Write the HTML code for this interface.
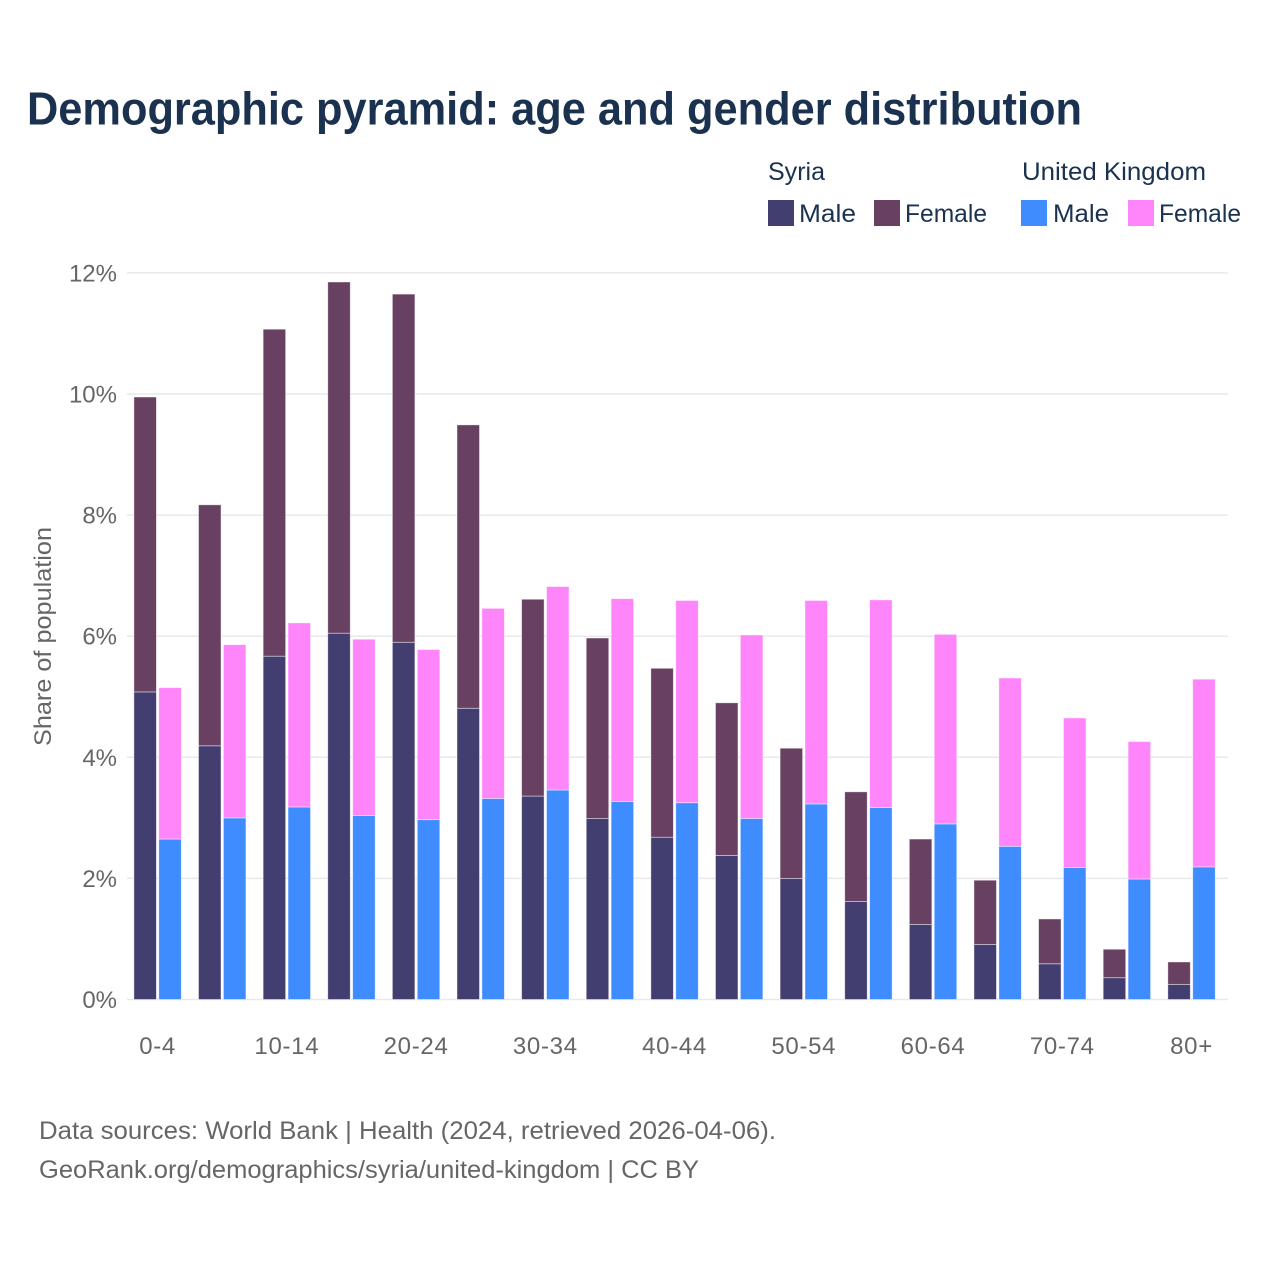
<!DOCTYPE html>
<html lang="en">
<head>
<meta charset="utf-8">
<title>Demographic pyramid: age and gender distribution</title>
<style>
html,body{margin:0;padding:0;background:#fff;}
svg{display:block;font-family:"Liberation Sans",sans-serif;}
</style>
</head>
<body>
<svg id="chart" width="1280" height="1280" viewBox="0 0 1280 1280" xmlns="http://www.w3.org/2000/svg">
  <rect x="0" y="0" width="1280" height="1280" fill="#ffffff"/>
  <text x="27" y="124.5" font-size="46" font-weight="700" fill="#1a3250" textLength="1055" lengthAdjust="spacingAndGlyphs">Demographic pyramid: age and gender distribution</text>

  <g font-size="25" fill="#1a3250">
    <text x="768" y="180" textLength="57" lengthAdjust="spacingAndGlyphs">Syria</text>
    <text x="1022" y="180" textLength="184" lengthAdjust="spacingAndGlyphs">United Kingdom</text>
    <rect x="768" y="200" width="26" height="26" fill="#433e70"/>
    <text x="799" y="222" textLength="57" lengthAdjust="spacingAndGlyphs">Male</text>
    <rect x="874" y="200" width="26" height="26" fill="#684162"/>
    <text x="905" y="222" textLength="82" lengthAdjust="spacingAndGlyphs">Female</text>
    <rect x="1021" y="200" width="26" height="26" fill="#3f8cff"/>
    <text x="1053" y="222" textLength="56" lengthAdjust="spacingAndGlyphs">Male</text>
    <rect x="1128" y="200" width="26" height="26" fill="#ff85fb"/>
    <text x="1159" y="222" textLength="82" lengthAdjust="spacingAndGlyphs">Female</text>
  </g>

  <g id="grid"></g>
  <g id="yticks"></g>
  <g id="bars"></g>
  <g id="xticks"></g>

  <text transform="translate(51,636.5) rotate(-90)" text-anchor="middle" font-size="24" fill="#666666" textLength="219" lengthAdjust="spacingAndGlyphs">Share of population</text>

  <text x="39" y="1139" font-size="25" fill="#666666" textLength="737" lengthAdjust="spacingAndGlyphs">Data sources: World Bank | Health (2024, retrieved 2026-04-06).</text>
  <text x="39" y="1178" font-size="25" fill="#666666" textLength="660" lengthAdjust="spacingAndGlyphs">GeoRank.org/demographics/syria/united-kingdom | CC BY</text>
</svg>
<script>
const categories = ["0-4","5-9","10-14","15-19","20-24","25-29","30-34","35-39","40-44","45-49","50-54","55-59","60-64","65-69","70-74","75-79","80+"];
const syriaMale = [5.08,4.19,5.67,6.05,5.90,4.81,3.36,2.99,2.68,2.38,2.00,1.62,1.24,0.91,0.59,0.36,0.25];
const syriaFemale = [4.87,3.98,5.40,5.80,5.75,4.68,3.25,2.98,2.79,2.52,2.15,1.81,1.41,1.06,0.74,0.47,0.37];
const ukMale = [2.65,3.00,3.18,3.04,2.97,3.32,3.46,3.27,3.25,2.99,3.23,3.17,2.90,2.53,2.18,1.99,2.19];
const ukFemale = [2.50,2.86,3.04,2.91,2.81,3.14,3.36,3.35,3.34,3.03,3.36,3.43,3.13,2.78,2.47,2.27,3.10];
const yTickValues = [0,2,4,6,8,10,12];
const xTickLabels = ["0-4","","10-14","","20-24","","30-34","","40-44","","50-54","","60-64","","70-74","","80+"];

const SVG_NS = "http://www.w3.org/2000/svg";
const yScale = function (v) { return 999.5 - v * 60.55; };
const xBand = function (i) { return 157.6 + i * 64.62; };
const barWidth = 22.5;
const barGap = 2.4;

function makeRect(parent, x, y0, y1, fill) {
  const r = document.createElementNS(SVG_NS, "rect");
  r.setAttribute("x", x);
  r.setAttribute("y", y1);
  r.setAttribute("width", barWidth);
  r.setAttribute("height", Math.max(0, y0 - y1));
  r.setAttribute("fill", fill);
  r.setAttribute("stroke", "#ffffff");
  r.setAttribute("stroke-opacity", "0.55");
  r.setAttribute("stroke-width", "0.8");
  parent.appendChild(r);
  return r;
}

const gridGroup = document.getElementById("grid");
const yTickGroup = document.getElementById("yticks");
yTickValues.forEach(function (v) {
  const line = document.createElementNS(SVG_NS, "line");
  
  
  line.setAttribute("x1", 127);
  line.setAttribute("x2", 1228);
  line.setAttribute("y1", yScale(v));
  line.setAttribute("y2", yScale(v));
  line.setAttribute("stroke", "#e9e9ec");
  line.setAttribute("stroke-width", "1.5");
  gridGroup.appendChild(line);

  const t = document.createElementNS(SVG_NS, "text");
  
  
  t.setAttribute("x", 117);
  t.setAttribute("y", yScale(v) + 8.5);
  t.setAttribute("text-anchor", "end");
  t.setAttribute("font-size", "24");
  t.setAttribute("fill", "#666666");
  t.textContent = v + "%";
  yTickGroup.appendChild(t);
});

const barGroup = document.getElementById("bars");
categories.forEach(function (cat, i) {
  const cx = xBand(i);
  const sx = cx - barGap / 2 - barWidth;
  const ux = cx + barGap / 2;
  const group = document.createElementNS(SVG_NS, "g");
  
  

  const sm = makeRect(group, sx, yScale(0), yScale(syriaMale[i]), "#433e70");
  
  
  const sf = makeRect(group, sx, yScale(syriaMale[i]), yScale(syriaMale[i] + syriaFemale[i]), "#684162");
  
  
  const um = makeRect(group, ux, yScale(0), yScale(ukMale[i]), "#3f8cff");
  
  
  const uf = makeRect(group, ux, yScale(ukMale[i]), yScale(ukMale[i] + ukFemale[i]), "#ff85fb");
  
  

  barGroup.appendChild(group);
});

const xTickGroup = document.getElementById("xticks");
xTickLabels.forEach(function (label, i) {
  if (!label) return;
  const t = document.createElementNS(SVG_NS, "text");
  
  
  t.setAttribute("x", xBand(i));
  t.setAttribute("y", 1054);
  t.setAttribute("text-anchor", "middle");
  t.setAttribute("font-size", "24");
  t.setAttribute("letter-spacing", "0.7");
  t.setAttribute("fill", "#666666");
  t.textContent = label;
  xTickGroup.appendChild(t);
});
</script>
</body>
</html>
